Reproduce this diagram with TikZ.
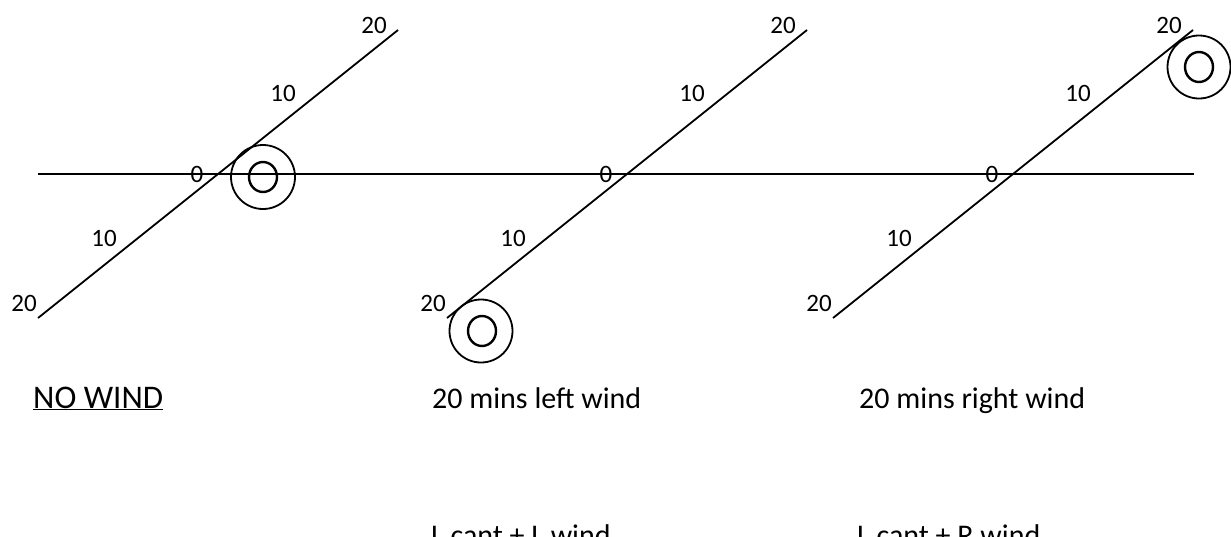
\documentclass[tikz,border=0pt]{standalone}
\usepackage{fontspec}
\setmainfont{Carlito}
\usepackage{tikz}
\tikzset{
  scale line/.style={line width=1.8pt},
  tick label/.style={font=\fontsize{25}{30}\selectfont, inner sep=0pt},
  caption/.style={font=\fontsize{30}{36}\selectfont, inner sep=0pt, anchor=base west},
  aim ring/.style={line width=1.8pt},
  aim eye/.style={line width=2.4pt}
}

\begin{document}
\begin{tikzpicture}[x=1pt, y=-1pt]
    \useasboundingbox (0,0) rectangle (1231,536);
    \clip (0,0) rectangle (1231,536);

    % Horizontal line through all three panels
    \coordinate (hl) at (38,174);
    \coordinate (hr) at (1194,174);
    \draw[scale line] (hl) -- (hr);

    % Slanted scales, one per panel
    \foreach \dx/\i in {0/1, 409/2, 795/3} {
        \coordinate (lo\i) at (38+\dx,318);
        \coordinate (hi\i) at (398+\dx,30);
        \draw[scale line] (lo\i) -- (hi\i);
        \node[tick label] (ta\i) at (374+\dx,25) {20};
        \node[tick label] (tb\i) at (283+\dx,93) {10};
        \node[tick label] (tz\i) at (197+\dx,174) {0};
        \node[tick label] (tc\i) at (104+\dx,238) {10};
        \node[tick label] (td\i) at (24+\dx,303) {20};
    }

    % Point of impact
    \draw[aim ring] (263,177) circle (32);
    \draw[aim eye] (263,177) ellipse (14 and 15);
    \draw[aim ring] (481,331) circle (31.5);
    \draw[aim eye] (482,331) ellipse (14 and 15);
    \draw[aim ring] (1199,67) circle (31.5);
    \draw[aim eye] (1199,67) ellipse (14 and 15);

    % Captions
    \node[caption, font=\fontsize{33}{38}\selectfont] (nowind) at (33,408) {\underline{NO WIND}};
    \node[caption] (leftwind) at (432,408) {20 mins left wind};
    \node[caption] (rightwind) at (859,408) {20 mins right wind};
    \node[caption] (lcantl) at (431,545) {L cant + L wind};
    \node[caption] (lcantr) at (857,545) {L cant + R wind};
\end{tikzpicture}
\end{document}
